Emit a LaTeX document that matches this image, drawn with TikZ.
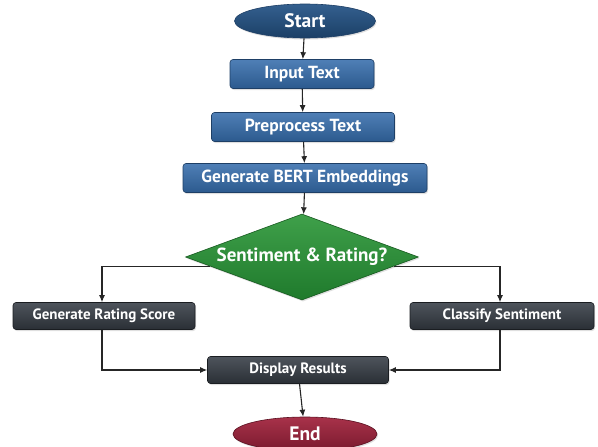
\documentclass[tikz,border=0pt]{standalone}
\usepackage{fontspec}
\setmainfont{PT Sans}
\usetikzlibrary{shapes.geometric,arrows.meta,calc,shadows}
\definecolor{bluetop}{HTML}{4F7FB6}
\definecolor{bluebot}{HTML}{2C5A8E}
\definecolor{blueedge}{HTML}{1E3F66}
\definecolor{navytop}{HTML}{34608F}
\definecolor{navybot}{HTML}{1B3F66}
\definecolor{greentop}{HTML}{3FA04A}
\definecolor{greenbot}{HTML}{1F7A2C}
\definecolor{greenedge}{HTML}{16591F}
\definecolor{graytop}{HTML}{4E545C}
\definecolor{graybot}{HTML}{2A2F35}
\definecolor{grayedge}{HTML}{1A1D21}
\definecolor{redtop}{HTML}{A8324A}
\definecolor{redbot}{HTML}{7A1A2E}
\definecolor{rededge}{HTML}{5A1020}
\tikzset{
  shade/.style={drop shadow={opacity=0.25,shadow xshift=1pt,shadow yshift=-1.5pt}},
  bluebox/.style={rectangle,rounded corners=3pt,top color=bluetop,bottom color=bluebot,draw=blueedge,line width=0.6pt,
    text=white,font=\bfseries\fontsize{17.5}{20}\selectfont,inner sep=0pt,minimum height=29pt,shade},
  graybox/.style={rectangle,rounded corners=3pt,top color=graytop,bottom color=graybot,draw=grayedge,line width=0.6pt,
    text=white,font=\bfseries\fontsize{15}{17}\selectfont,inner sep=0pt,minimum height=27pt,shade},
  termstart/.style={ellipse,top color=navytop,bottom color=navybot,draw=blueedge,line width=0.6pt,
    text=white,font=\bfseries\fontsize{19.5}{22}\selectfont,inner sep=0pt,minimum width=141pt,minimum height=34pt,shade},
  termend/.style={ellipse,top color=redtop,bottom color=redbot,draw=rededge,line width=0.6pt,
    text=white,font=\bfseries\fontsize{19.5}{22}\selectfont,inner sep=0pt,minimum width=144pt,minimum height=34pt,shade},
  decision/.style={diamond,aspect=2.7,top color=greentop,bottom color=greenbot,draw=greenedge,line width=0.6pt,
    text=white,font=\bfseries\fontsize{19}{22}\selectfont,inner sep=0pt,minimum width=233pt,minimum height=86pt,shade},
  conn/.style={draw=black!85,line width=1.1pt,-{Latex[length=7pt,width=6pt]}}
}
\begin{document}
\begin{tikzpicture}[x=1pt,y=-1pt]
\useasboundingbox (0,0) rectangle (598,447);
\fill[white] (0,0) rectangle (598,447);
\clip (0,0) rectangle (598,447);
\node[termstart] (start) at (305,21) {Start};
\node[bluebox,minimum width=144pt] (input) at (302,74) {Input Text};
\node[bluebox,minimum width=183pt] (pre) at (303,127) {Preprocess Text};
\node[bluebox,minimum width=244pt] (bert) at (305,178) {Generate BERT Embeddings};
\node[decision] (dia) at (302,257) {Sentiment \& Rating?};
\node[graybox,minimum width=182pt] (gr) at (104,316) {Generate Rating Score};
\node[graybox,minimum width=184pt] (cs) at (502,316) {Classify Sentiment};
\node[graybox,minimum width=181pt] (dr) at (298,370) {Display Results};
\node[termend] (end) at (305,434) {End};
\draw[conn] (start) -- (input);
\draw[conn] (input) -- (pre);
\draw[conn] (pre) -- (bert);
\draw[conn] (bert) -- (dia);
\coordinate (dl) at ($(dia.west)!0.21!(dia.south)$);
\coordinate (drr) at ($(dia.east)!0.21!(dia.south)$);
\draw[conn] (dl) -| ([xshift=-2pt]gr.north);
\draw[conn] (drr) -| ([xshift=-2pt]cs.north);
\draw[conn] ([xshift=-2pt]gr.south) |- (dr.west);
\draw[conn] ([xshift=-2pt]cs.south) |- (dr.east);
\draw[conn] (dr) -- (end);
\end{tikzpicture}
\end{document}
